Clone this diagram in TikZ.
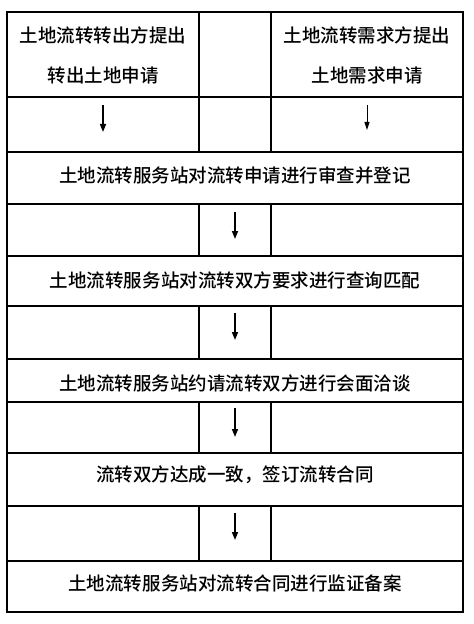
\documentclass[tikz,border=0pt]{standalone}
\usepackage{fontspec}
\setmainfont{Noto Sans CJK SC}[UprightFont=* Medium]
\usetikzlibrary{arrows.meta}
\begin{document}
\begin{tikzpicture}[x=1bp,y=-1bp,
  cell/.style={draw=black, line width=2bp, inner sep=0pt, outer sep=0pt, fill=white},
  lbl/.style={font=\fontsize{18.5bp}{22bp}\selectfont, inner sep=0pt, align=center},
  flow/.style={line width=1.6bp, -{Triangle[length=8bp,width=6bp]}},
  flowthin/.style={line width=1bp, -{Triangle[length=8bp,width=5bp]}}]
\useasboundingbox (0,0) rectangle (474,624);
% Row A
\node[cell, minimum width=192bp, minimum height=85bp] (aL) at (103,54.5) {};
\node[cell, minimum width=72bp, minimum height=85bp] (aM) at (235,54.5) {};
\node[cell, minimum width=192bp, minimum height=85bp] (aR) at (367,54.5) {};
% Row B
\node[cell, minimum width=192bp, minimum height=55bp] (bL) at (103,124.5) {};
\node[cell, minimum width=72bp, minimum height=55bp] (bM) at (235,124.5) {};
\node[cell, minimum width=192bp, minimum height=55bp] (bR) at (367,124.5) {};
% Row C
\node[cell, minimum width=456bp, minimum height=52bp] (c) at (235,178) {};
% Row D
\node[cell, minimum width=192bp, minimum height=52bp] (dL) at (103,230) {};
\node[cell, minimum width=72bp, minimum height=52bp] (dM) at (235,230) {};
\node[cell, minimum width=192bp, minimum height=52bp] (dR) at (367,230) {};
% Row E
\node[cell, minimum width=456bp, minimum height=50bp] (e) at (235,281) {};
% Row F
\node[cell, minimum width=192bp, minimum height=53bp] (fL) at (103,332.5) {};
\node[cell, minimum width=72bp, minimum height=53bp] (fM) at (235,332.5) {};
\node[cell, minimum width=192bp, minimum height=53bp] (fR) at (367,332.5) {};
% Row G
\node[cell, minimum width=456bp, minimum height=43bp] (g) at (235,380.5) {};
% Row H
\node[cell, minimum width=192bp, minimum height=51bp] (hL) at (103,427.5) {};
\node[cell, minimum width=72bp, minimum height=51bp] (hM) at (235,427.5) {};
\node[cell, minimum width=192bp, minimum height=51bp] (hR) at (367,427.5) {};
% Row I
\node[cell, minimum width=456bp, minimum height=53bp] (i) at (235,479.5) {};
% Row J
\node[cell, minimum width=192bp, minimum height=55bp] (jL) at (103,533.5) {};
\node[cell, minimum width=72bp, minimum height=55bp] (jM) at (235,533.5) {};
\node[cell, minimum width=192bp, minimum height=55bp] (jR) at (367,533.5) {};
% Row K
\node[cell, minimum width=456bp, minimum height=51bp] (k) at (235,586.5) {};

% Texts
\node[lbl] (t1a) at (103,35) {土地流转转出方提出};
\node[lbl] (t1b) at (103,75) {转出土地申请};
\node[lbl] (t2a) at (367,35) {土地流转需求方提出};
\node[lbl] (t2b) at (367,75) {土地需求申请};
\node[lbl] (tc) at (235,175) {土地流转服务站对流转申请进行审查并登记};
\node[lbl] (te) at (235,280) {土地流转服务站对流转双方要求进行查询匹配};
\node[lbl] (tg) at (235,383) {土地流转服务站约请流转双方进行会面洽谈};
\node[lbl] (ti) at (235,475) {流转双方达成一致，签订流转合同};
\node[lbl] (tk) at (235,583) {土地流转服务站对流转合同进行监证备案};

% Arrows
\coordinate (bLs) at (103,105); \coordinate (bLe) at (103,132);
\coordinate (bRs) at (367,105); \coordinate (bRe) at (367,130);
\coordinate (dMs) at (235,212); \coordinate (dMe) at (235,239);
\coordinate (fMs) at (235,313); \coordinate (fMe) at (235,340);
\coordinate (hMs) at (235,408); \coordinate (hMe) at (235,437);
\coordinate (jMs) at (235,513); \coordinate (jMe) at (235,540);
\draw[flow] (bLs) -- (bLe);
\draw[flowthin] (bRs) -- (bRe);
\draw[flow] (dMs) -- (dMe);
\draw[flow] (fMs) -- (fMe);
\draw[flow] (hMs) -- (hMe);
\draw[flow] (jMs) -- (jMe);
\end{tikzpicture}
\end{document}
